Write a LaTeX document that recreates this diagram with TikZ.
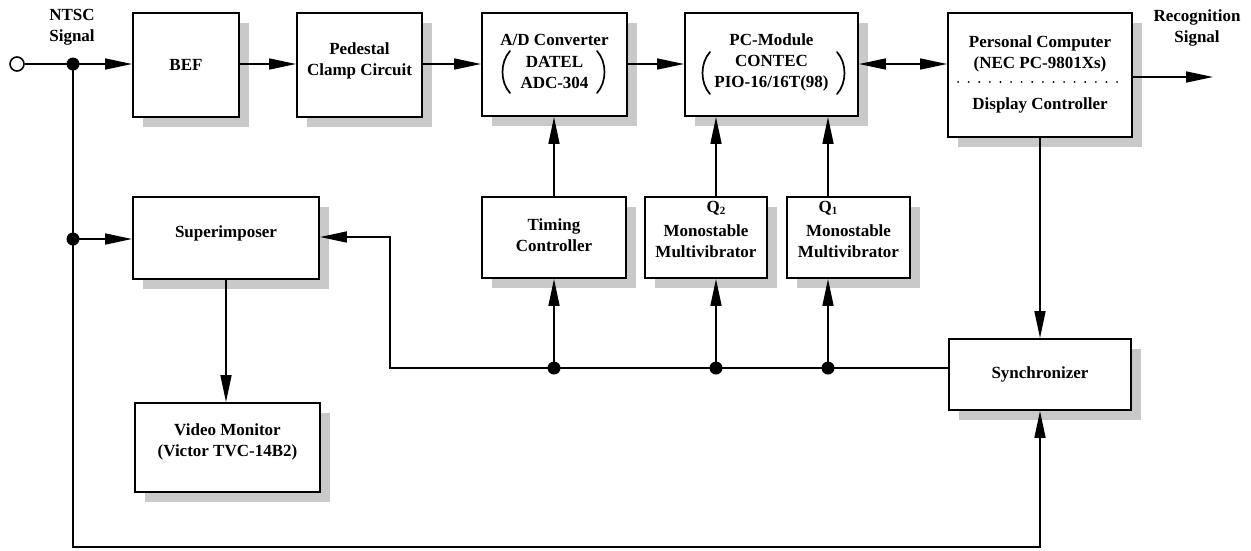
\documentclass[tikz,border=0pt]{standalone}
\usepackage{fontspec}
\setmainfont{Liberation Serif}
\usetikzlibrary{arrows.meta,shadows,calc}
\tikzset{
 blk/.style={draw, line width=1.9pt, fill=white, inner sep=0pt,
   general shadow={fill=gray!42, shadow xshift=10pt, shadow yshift=-10pt}},
 txt/.style={font=\bfseries\fontsize{17}{21}\selectfont, align=center, inner sep=0pt},
 wire/.style={line width=1.6pt},
 arr/.style={wire, -{Triangle[length=27pt,width=11pt]}},
 darr/.style={wire, {Triangle[length=27pt,width=11pt]}-{Triangle[length=27pt,width=11pt]}},
 jdot/.style={circle, fill=black, inner sep=0pt, minimum size=13pt},
 sep/.style={line width=2pt, line cap=round, dash pattern=on 0.1pt off 10.5pt},
 parenline/.style={line width=1.7pt, line cap=round},
}
\begin{document}
\begin{tikzpicture}[x=1pt,y=-1pt]
\useasboundingbox (0,0) rectangle (1251,550);
% boxes
\node[blk, minimum width=106pt, minimum height=104pt] (bef) at (186,65) {};
\node[blk, minimum width=125pt, minimum height=104pt] (ped) at (359.5,65) {};
\node[blk, minimum width=145pt, minimum height=103pt] (ad) at (554.5,64.5) {};
\node[blk, minimum width=173pt, minimum height=103pt] (pcm) at (771.5,64.5) {};
\node[blk, minimum width=184pt, minimum height=124pt] (pc) at (1040,75) {};
\node[blk, minimum width=186pt, minimum height=82pt] (sup) at (226,238) {};
\node[blk, minimum width=144pt, minimum height=81pt] (tim) at (554,237.5) {};
\node[blk, minimum width=122pt, minimum height=81pt] (q2) at (706,237.5) {};
\node[blk, minimum width=123pt, minimum height=81pt] (q1) at (848.5,237.5) {};
\node[blk, minimum width=182pt, minimum height=71pt] (sync) at (1040,374.5) {};
\node[blk, minimum width=185pt, minimum height=89pt] (vid) at (227.5,447.5) {};
\draw[sep] (958,82) -- (1122,82);
% big parentheses
\draw[parenline] (510,51) .. controls (500,62) and (500,82) .. (510,93);
\draw[parenline] (597,51) .. controls (607,62) and (607,82) .. (597,93);
\draw[parenline] (710,52) .. controls (700,63) and (700,83) .. (710,94);
\draw[parenline] (837,52) .. controls (847,63) and (847,83) .. (837,94);
% texts
\node[txt] (ntscT) at (72,27) {NTSC\\Signal};
\node[txt] (recT) at (1197,28) {Recognition\\Signal};
\node[txt] (befT) at (186,65) {BEF};
\node[txt] (pedT) at (359.5,61) {Pedestal\\Clamp Circuit};
\node[txt] (adT1) at (554.5,40) {A/D Converter};
\node[txt] (adT2) at (554.5,72) {DATEL\\ADC-304};
\node[txt] (pcmT1) at (771.5,40) {PC-Module};
\node[txt] (pcmT2) at (771.5,73) {CONTEC\\PIO-16/16T(98)};
\node[txt] (pcT1) at (1040,54) {Personal Computer\\(NEC PC-9801Xs)};
\node[txt] (pcT2) at (1040,105) {Display Controller};
\node[txt] (supT) at (226,233) {Superimposer};
\node[txt] (timT) at (554,235) {Timing\\Controller};
\node[txt] (q2T) at (716,208) {Q\raisebox{-2pt}{\fontsize{11}{11}\selectfont 2}};
\node[txt] (q2T2) at (706,241) {Monostable\\Multivibrator};
\node[txt] (q1T) at (828,208) {Q\raisebox{-2pt}{\fontsize{11}{11}\selectfont 1}};
\node[txt] (q1T2) at (848.5,241) {Monostable\\Multivibrator};
\node[txt] (syncT) at (1040,374) {Synchronizer};
\node[txt] (vidT) at (227.5,442) {Video Monitor\\(Victor TVC-14B2)};
% junctions and coordinates
\node[circle, draw, line width=1.6pt, fill=white, inner sep=0pt, minimum size=14pt] (in) at (17,64) {};
\coordinate (j1) at (73,64);
\coordinate (j2) at (73,239);
\coordinate (bl) at (73,547);
\coordinate (recEnd) at (1213,77);
\coordinate (bc) at (390,368);
\coordinate (bu) at (390,237);
\coordinate (jT) at (554,368);
\coordinate (jQ2) at (716,368);
\coordinate (jQ1) at (828,368);
% connectors
\draw[wire] (in) -- (j1);
\draw[arr] (j1) -- (j1 -| bef.west);
\draw[arr] (bef.east |- j1) -- (ped.west |- j1);
\draw[arr] (ped.east |- j1) -- (ad.west |- j1);
\draw[arr] (ad.east |- j1) -- (pcm.west |- j1);
\draw[darr] (pcm.east |- j1) -- (pc.west |- j1);
\draw[arr] (pc.east |- recEnd) -- (recEnd);
\draw[wire] (j1) -- (j2);
\draw[arr] (j2) -- (j2 -| sup.west);
\draw[arr] (j2) -- (bl) -| (sync.south);
\draw[arr] (pc.south) -- (sync.north);
\draw[arr] (sync.west |- bc) -- (bc) -- (bu) -- (sup.east |- bu);
\draw[arr] (jT) -- (tim.south);
\draw[arr] (tim.north) -- (jT |- ad.south);
\draw[arr] (jQ2) -- (jQ2 |- q2.south);
\draw[arr] (jQ2 |- q2.north) -- (jQ2 |- pcm.south);
\draw[arr] (jQ1) -- (jQ1 |- q1.south);
\draw[arr] (jQ1 |- q1.north) -- (jQ1 |- pcm.south);
\draw[arr] (sup.south) -- (sup.south |- vid.north);
\node[jdot] (dj1) at (j1) {};
\node[jdot] (dj2) at (j2) {};
\node[jdot] (djT) at (jT) {};
\node[jdot] (djQ2) at (jQ2) {};
\node[jdot] (djQ1) at (jQ1) {};
\end{tikzpicture}
\end{document}
